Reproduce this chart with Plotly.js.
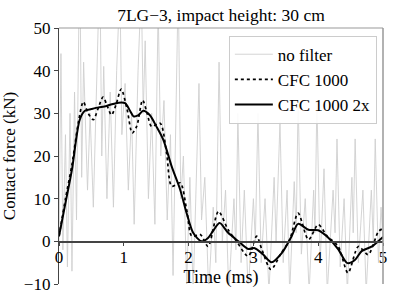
<!DOCTYPE html>
<html>
<head>
<meta charset="utf-8">
<script src="https://cdn.plot.ly/plotly-3.0.1.min.js"></script>
<style>html,body{margin:0;padding:0;background:#fff;}#chart{width:395px;height:304px;}</style>
</head>
<body>
<div id="chart"></div>
<script>
// Raw (unfiltered) signal vertices
const rawTime = [0.00,0.03,0.06,0.10,0.13,0.17,0.20,0.24,0.27,0.32,0.35,0.38,0.44,0.48,0.53,0.58,0.63,0.66,0.69,0.74,0.79,0.84,0.89,0.94,0.97,1.02,1.07,1.12,1.16,1.22,1.27,1.30,1.33,1.38,1.43,1.48,1.53,1.57,1.62,1.67,1.72,1.76,1.84,1.88,1.92,1.97,2.02,2.07,2.16,2.20,2.25,2.31,2.38,2.42,2.47,2.52,2.57,2.62,2.70,2.73,2.76,2.81,2.86,2.92,3.00,3.03,3.07,3.12,3.18,3.24,3.32,3.35,3.41,3.46,3.52,3.56,3.63,3.66,3.69,3.74,3.80,3.86,3.93,3.95,3.98,4.03,4.09,4.14,4.23,4.26,4.29,4.34,4.40,4.45,4.52,4.54,4.57,4.62,4.69,4.74,4.82,4.85,4.88,4.93,4.97,5.00];
const rawForce = [0,44,-2,25,-6,30,-7,35,5,70,15,42,12,30,8,38,65,20,41,10,35,8,40,60,25,37,12,30,4,40,60,30,47,10,30,4,55,20,33,5,25,-8,60,10,20,-10,15,-12,37,5,15,-12,8,-5,42,0,12,-12,10,-2,30,-5,12,-12,10,0,30,-5,10,-12,15,0,28,-5,12,-12,14,2,33,-3,10,-12,12,2,33,-5,17,-12,12,2,24,-6,10,-12,15,2,24,-5,12,-12,12,0,24,-5,8,0];

// CFC 1000 filtered
const cfcTime = [0,0.1,0.2,0.3,0.375,0.45,0.53,0.6,0.68,0.75,0.81,0.88,0.96,1.05,1.13,1.2,1.29,1.36,1.43,1.56,1.66,1.74,1.87,1.97,2.05,2.18,2.3,2.46,2.61,2.74,2.92,3.05,3.13,3.27,3.42,3.56,3.69,3.85,4.0,4.14,4.31,4.46,4.62,4.77,4.93,5.0];
const cfcForce = [1.2,10,18,28,32.7,30,28.5,31,33.8,31.5,29.6,32,35.7,31,25.4,27,33.1,30,26.9,27.7,20.7,12.9,13.7,7.4,1.2,1.6,-1.2,7.0,2.7,0,-3.5,1.2,-1.9,-6.6,-3,0.4,6.6,0.4,3.9,1.2,-1.2,-7.4,-1.2,-3.1,2.3,3];

// CFC 1000 applied twice
const cfc2Time = [0,0.1,0.2,0.32,0.4,0.5,0.61,0.7,0.79,0.92,1.02,1.1,1.15,1.22,1.3,1.4,1.5,1.61,1.74,1.87,1.97,2.07,2.2,2.3,2.38,2.48,2.61,2.77,2.92,3.02,3.15,3.28,3.44,3.59,3.69,3.85,4.0,4.16,4.31,4.45,4.57,4.67,4.83,4.97,5.0];
const cfc2Force = [1.2,9,16.8,28.5,30.6,31.0,31.4,31.6,32.0,32.5,32.4,30.5,29.3,29.5,30.6,29.6,27,23.8,17.5,12.1,6.6,2.0,0,0.8,2.5,4.3,2.0,0,-1.8,-1.6,-3.1,-4.9,-2.7,1.2,4.1,2.7,2.6,0.8,-1.9,-5.1,-4.3,-2.3,-1.2,0.6,1];

const xTicks = [0,1,2,3,4,5];
const yTicks = [-10,0,10,20,30,40,50];
const seriesNames = ['no filter','CFC 1000','CFC 1000 2x'];

const font = '"Liberation Serif", "DejaVu Serif", serif';

const traces = [
  {x: rawTime, y: rawForce, name: seriesNames[0], mode: 'lines',
   line: {color: '#cfcfcf', width: 0.9}},
  {x: cfcTime, y: cfcForce, name: seriesNames[1], mode: 'lines',
   line: {color: '#000', width: 1.7, dash: 'dot', shape: 'spline', smoothing: 0.8}},
  {x: cfc2Time, y: cfc2Force, name: seriesNames[2], mode: 'lines',
   line: {color: '#000', width: 2, shape: 'spline', smoothing: 0.8}}
];

const layout = {
  width: 395, height: 304,
  margin: {l: 59, r: 12, t: 28, b: 20},
  paper_bgcolor: '#fff', plot_bgcolor: '#fff',
  font: {family: font, size: 17, color: '#000'},
  title: {text: '7LG\u22123, impact height: 30 cm', font: {family: font, size: 17.5, color: '#000'},
          xref: 'paper', x: 0.5, xanchor: 'center', y: 0.972, yanchor: 'top'},
  showlegend: true,
  legend: {x: 0.981, xanchor: 'right', y: 0.97, yanchor: 'top', itemwidth: 38,
           bgcolor: 'rgba(255,255,255,0.9)', bordercolor: '#ccc', borderwidth: 1,
           font: {family: font, size: 17, color: '#000'}, tracegroupgap: 0},
  xaxis: {range: [0, 5], tickvals: xTicks, ticktext: xTicks.map(String),
          anchor: 'free', position: 1/6, showline: true, linecolor: '#444', linewidth: 1.2,
          ticks: 'outside', ticklen: 3, tickcolor: '#444', showgrid: false, zeroline: false,
          ticklabelstandoff: -3,
          tickfont: {family: font, size: 17, color: '#000'},
          title: {text: 'Time (ms)', font: {family: font, size: 18, color: '#000'}, standoff: 0}},
  yaxis: {range: [-10, 50], tickvals: yTicks, ticktext: yTicks.map(v => v < 0 ? '\u2212' + Math.abs(v) : String(v)),
          showline: true, linecolor: '#444', linewidth: 1.2,
          ticks: 'outside', ticklen: 4, tickcolor: '#444', showgrid: false, zeroline: false,
          tickfont: {family: font, size: 17, color: '#000'},
          title: {text: 'Contact force (kN)', font: {family: font, size: 17, color: '#000'}, standoff: 6}},
  shapes: [
    {type: 'line', xref: 'paper', yref: 'paper', x0: 0, x1: 1, y0: 1, y1: 1, line: {color: '#999', width: 1}},
    {type: 'line', xref: 'paper', yref: 'paper', x0: 1, x1: 1, y0: 0, y1: 1, line: {color: '#999', width: 1.5}}
  ]
};

Plotly.newPlot('chart', traces, layout, {staticPlot: true, displayModeBar: false});
</script>
</body>
</html>
